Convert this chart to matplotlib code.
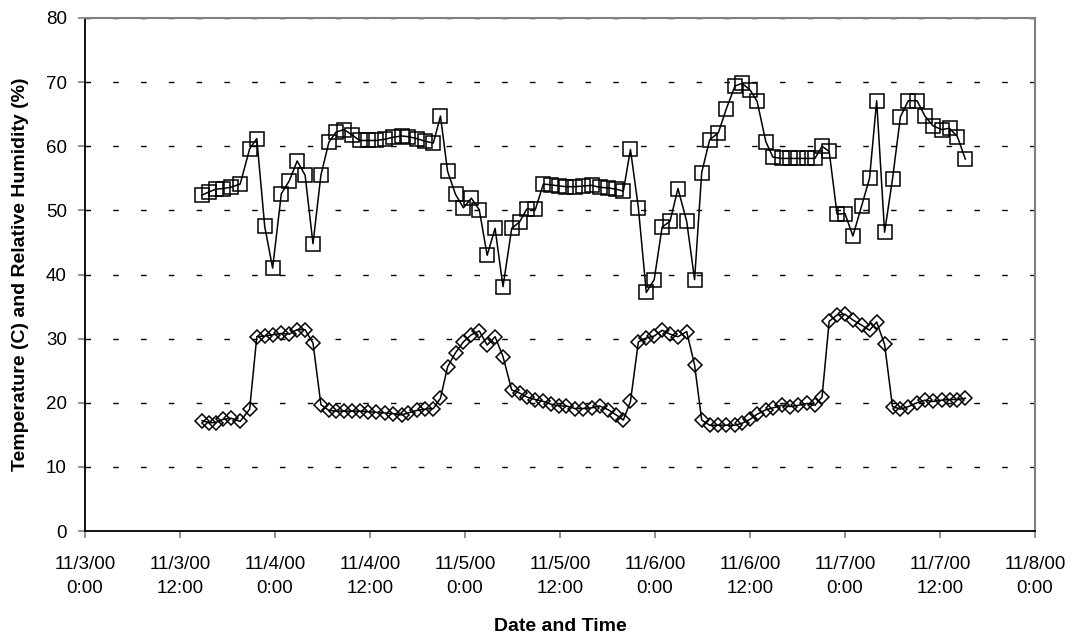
import matplotlib
matplotlib.use("Agg")
import matplotlib.pyplot as plt

# Hours since 11/3/00 0:00
hours = [14.8, 15.7, 16.5, 17.4, 18.4, 19.6, 20.8, 21.7, 22.7, 23.7,
         24.8, 25.8, 26.8, 27.8, 28.8, 29.8, 30.8, 31.7, 32.7, 33.7,
         34.7, 35.8, 36.8, 37.9, 38.9, 40.0, 40.8, 41.9, 42.9, 44.0,
         44.9, 45.8, 46.8, 47.8, 48.8, 49.8, 50.8, 51.8, 52.8, 53.9,
         54.9, 55.8, 56.9, 57.9, 58.8, 59.9, 60.8, 61.9, 62.9, 64.0,
         65.0, 66.1, 67.1, 68.0, 68.9, 69.9, 70.9, 71.9, 72.9, 73.9,
         74.9, 76.0, 77.0, 77.9, 78.9, 80.0, 81.0, 82.1, 83.0, 84.0,
         84.9, 86.0, 86.9, 88.0, 89.1, 90.1, 91.2, 92.2, 93.1, 94.0,
         95.0, 96.0, 97.0, 98.1, 99.1, 100.0, 101.0, 102.0, 103.0, 104.0,
         105.1, 106.1, 107.1, 108.2, 109.2, 110.2, 111.2]

humidity = [52.4, 52.9, 53.3, 53.4, 53.6, 54.1, 59.6, 61.2, 47.5, 41.0,
            52.6, 54.6, 57.7, 55.5, 44.8, 55.5, 60.6, 62.2, 62.6, 61.8,
            60.9, 60.9, 60.9, 61.1, 61.4, 61.6, 61.5, 61.2, 60.8, 60.5,
            64.7, 56.1, 52.5, 50.4, 51.9, 50.1, 43.0, 47.2, 38.1, 47.2,
            48.2, 50.2, 50.2, 54.1, 54.0, 53.8, 53.7, 53.7, 53.8, 53.9,
            53.6, 53.5, 53.3, 53.0, 59.5, 50.4, 37.2, 39.2, 47.4, 48.3,
            53.4, 48.3, 39.2, 55.9, 61.0, 62.1, 65.8, 69.4, 69.8, 68.8,
            67.0, 60.7, 58.3, 58.1, 58.1, 58.1, 58.1, 58.1, 60.0, 59.2,
            49.4, 49.5, 46.0, 50.7, 55.0, 67.1, 46.6, 54.9, 64.6, 67.1,
            67.1, 64.7, 63.2, 62.6, 62.8, 61.5, 58.0]

temperature = [17.2, 16.9, 16.9, 17.4, 17.6, 17.1, 19.0, 30.3, 30.4, 30.6,
               30.8, 30.7, 31.4, 31.4, 29.3, 19.7, 18.8, 18.7, 18.7, 18.7,
               18.7, 18.6, 18.5, 18.4, 18.3, 18.1, 18.4, 18.8, 19.0, 19.1,
               20.7, 25.6, 27.8, 29.5, 30.6, 31.2, 29.0, 30.3, 27.2, 22.0,
               21.5, 20.9, 20.5, 20.2, 19.8, 19.5, 19.5, 19.1, 19.1, 19.2,
               19.5, 18.9, 18.1, 17.3, 20.2, 29.5, 30.1, 30.4, 31.3, 30.7,
               30.3, 31.1, 25.9, 17.3, 16.5, 16.5, 16.5, 16.5, 16.8, 17.4,
               18.2, 18.9, 19.2, 19.6, 19.4, 19.6, 19.9, 19.6, 20.9, 32.7,
               33.7, 33.8, 32.9, 32.1, 31.3, 32.6, 29.1, 19.4, 19.0, 19.4,
               20.0, 20.4, 20.2, 20.4, 20.5, 20.5, 20.7]

x_ticks = list(range(0, 121, 12))
x_tick_labels = ["11/3/00\n0:00", "11/3/00\n12:00", "11/4/00\n0:00", "11/4/00\n12:00",
                 "11/5/00\n0:00", "11/5/00\n12:00", "11/6/00\n0:00", "11/6/00\n12:00",
                 "11/7/00\n0:00", "11/7/00\n12:00", "11/8/00\n0:00"]
y_ticks = list(range(0, 81, 10))

plt.rcParams['font.family'] = ['Liberation Sans', 'DejaVu Sans']

fig = plt.figure(figsize=(10.78, 6.41), dpi=100)
ax = fig.add_axes([85 / 1078, 1 - 531 / 641, (1035 - 85) / 1078, (531 - 18) / 641])

for yv in y_ticks[1:]:
    ax.axhline(yv, color='black', lw=1.0, dashes=(4, 16), zorder=1)

ax.plot(hours, humidity, color='black', lw=1.1, marker='s', markersize=9.8,
        markerfacecolor='none', markeredgecolor='black', markeredgewidth=1.1, zorder=3)
ax.plot(hours, temperature, color='black', lw=1.1, marker='D', markersize=7.0,
        markerfacecolor='none', markeredgecolor='black', markeredgewidth=1.1, zorder=3)

ax.set_xlim(0, 120)
ax.set_ylim(0, 80)
ax.set_xticks(x_ticks)
ax.set_xticklabels(x_tick_labels, fontsize=13.5, linespacing=1.57)
ax.set_yticks(y_ticks)
ax.set_yticklabels([str(v) for v in y_ticks], fontsize=13.5)

ax.tick_params(axis='both', direction='out', length=5, width=1.2, color='#808080', pad=8)
ax.tick_params(axis='x', pad=13)

for side in ['left', 'bottom']:
    ax.spines[side].set_color('black')
    ax.spines[side].set_linewidth(1.3)
for side in ['top', 'right']:
    ax.spines[side].set_color('#808080')
    ax.spines[side].set_linewidth(1.5)

ax.set_xlabel("Date and Time", fontsize=14, fontweight='bold', labelpad=15)
ax.set_ylabel("Temperature (C) and Relative Humidity (%)", fontsize=14, fontweight='bold', labelpad=12)

fig.savefig("out.png", dpi=100)
